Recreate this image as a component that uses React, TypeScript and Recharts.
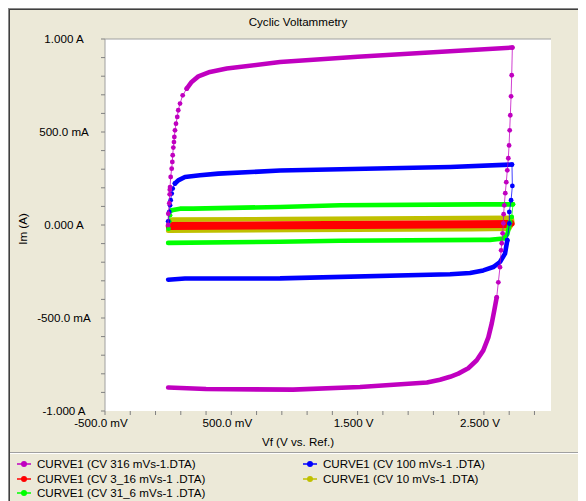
import React from 'react';
import { ScatterChart, Scatter, XAxis, YAxis, CartesianGrid, ReferenceLine } from 'recharts';

const FONT = '"Liberation Sans", Arial, sans-serif';
const FS = 11.6;

// Potential (V vs. Ref.) and current (A) samples of each cyclic voltammogram.
// Each cycle is split into its densely sampled runs and its sparsely sampled
// switching regions so that the sparse points show up as separate markers.

// 316 mV/s
const magentaRise = [
  { v: 0.0, i: 0.0 }, { v: 0.001, i: 0.061 }, { v: 0.009, i: 0.117 }, { v: 0.012, i: 0.165 },
  { v: 0.013, i: 0.19 }, { v: 0.015, i: 0.204 }, { v: 0.02, i: 0.258 }, { v: 0.028, i: 0.303 },
  { v: 0.033, i: 0.339 }, { v: 0.036, i: 0.375 }, { v: 0.041, i: 0.416 }, { v: 0.046, i: 0.446 },
  { v: 0.049, i: 0.473 }, { v: 0.054, i: 0.509 }, { v: 0.062, i: 0.545 }, { v: 0.072, i: 0.581 },
  { v: 0.08, i: 0.617 }, { v: 0.094, i: 0.653 }, { v: 0.115, i: 0.697 }, { v: 0.147, i: 0.733 },
];
const magentaTop = [
  { v: 0.147, i: 0.733 }, { v: 0.186, i: 0.769 }, { v: 0.239, i: 0.799 }, { v: 0.331, i: 0.823 },
  { v: 0.464, i: 0.841 }, { v: 0.886, i: 0.876 }, { v: 1.5, i: 0.905 }, { v: 2.232, i: 0.934 },
  { v: 2.725, i: 0.954 },
];
const magentaFall = [
  { v: 2.725, i: 0.954 }, { v: 2.72, i: 0.805 }, { v: 2.715, i: 0.692 }, { v: 2.709, i: 0.59 },
  { v: 2.704, i: 0.509 }, { v: 2.699, i: 0.428 }, { v: 2.693, i: 0.359 }, { v: 2.685, i: 0.294 },
  { v: 2.677, i: 0.23 }, { v: 2.669, i: 0.171 }, { v: 2.661, i: 0.106 }, { v: 2.656, i: 0.058 },
  { v: 2.654, i: 0.009 }, { v: 2.648, i: -0.045 }, { v: 2.641, i: -0.098 }, { v: 2.636, i: -0.136 },
  { v: 2.627, i: -0.227 }, { v: 2.614, i: -0.308 }, { v: 2.601, i: -0.389 },
];
const magentaReturn = [
  { v: 2.601, i: -0.389 }, { v: 2.582, i: -0.459 }, { v: 2.562, i: -0.529 }, { v: 2.535, i: -0.604 },
  { v: 2.495, i: -0.674 }, { v: 2.443, i: -0.727 }, { v: 2.376, i: -0.77 }, { v: 2.297, i: -0.799 },
  { v: 2.232, i: -0.816 }, { v: 2.152, i: -0.832 }, { v: 2.049, i: -0.847 }, { v: 1.519, i: -0.871 },
  { v: 0.989, i: -0.885 }, { v: 0.3, i: -0.882 }, { v: 0.0, i: -0.874 },
];

// 100 mV/s
const blueRise = [
  { v: 0.0, i: 0.02 }, { v: 0.009, i: 0.07 }, { v: 0.015, i: 0.106 }, { v: 0.02, i: 0.133 },
  { v: 0.028, i: 0.169 }, { v: 0.036, i: 0.196 }, { v: 0.054, i: 0.223 },
];
const blueTop = [
  { v: 0.054, i: 0.223 }, { v: 0.08, i: 0.24 }, { v: 0.133, i: 0.258 }, { v: 0.252, i: 0.267 },
  { v: 0.397, i: 0.276 }, { v: 0.886, i: 0.293 }, { v: 2.232, i: 0.312 }, { v: 2.722, i: 0.325 },
];
const blueFall = [
  { v: 2.722, i: 0.325 }, { v: 2.725, i: 0.21 }, { v: 2.715, i: 0.133 }, { v: 2.701, i: 0.07 },
  { v: 2.701, i: 0.008 }, { v: 2.685, i: -0.082 },
];
const blueReturn = [
  { v: 2.685, i: -0.082 }, { v: 2.667, i: -0.154 }, { v: 2.627, i: -0.199 }, { v: 2.574, i: -0.226 },
  { v: 2.495, i: -0.244 }, { v: 2.39, i: -0.258 }, { v: 2.232, i: -0.265 }, { v: 0.886, i: -0.287 },
  { v: 0.133, i: -0.288 }, { v: 0.0, i: -0.294 },
];

// 31.6 mV/s
const greenRise = [
  { v: 0.003, i: -0.02 }, { v: 0.009, i: 0.02 }, { v: 0.015, i: 0.052 }, { v: 0.028, i: 0.079 },
];
const greenTop = [
  { v: 0.028, i: 0.079 }, { v: 0.094, i: 0.088 }, { v: 0.197, i: 0.088 }, { v: 0.886, i: 0.097 },
  { v: 1.361, i: 0.106 }, { v: 2.469, i: 0.111 }, { v: 2.73, i: 0.111 },
];
const greenFall = [
  { v: 2.73, i: 0.111 }, { v: 2.72, i: 0.043 }, { v: 2.707, i: 0.015 },
];
const greenReturn = [
  { v: 2.707, i: 0.015 }, { v: 2.685, i: -0.05 }, { v: 2.654, i: -0.073 }, { v: 2.548, i: -0.08 },
  { v: 2.469, i: -0.08 }, { v: 1.361, i: -0.085 }, { v: 0.886, i: -0.09 }, { v: 0.0, i: -0.096 },
];

// 10 mV/s
const yellowCycle = [
  { v: 0.0, i: -0.005 }, { v: 0.012, i: 0.02 }, { v: 0.03, i: 0.029 }, { v: 0.9, i: 0.032 },
  { v: 2.0, i: 0.036 }, { v: 2.72, i: 0.039 }, { v: 2.725, i: 0.01 }, { v: 2.7, i: -0.02 },
  { v: 2.4, i: -0.022 }, { v: 1.0, i: -0.027 }, { v: 0.0, i: -0.031 },
];

// 3.16 mV/s
const redCycle = [
  { v: 0.0, i: -0.005 }, { v: 0.01, i: 0.004 }, { v: 0.9, i: 0.008 }, { v: 2.72, i: 0.015 },
  { v: 2.725, i: 0.005 }, { v: 2.7, i: -0.004 }, { v: 1.5, i: -0.009 }, { v: 0.0, i: -0.014 },
];

// Axis ticks and labels
const xTicks = [-0.5, -0.3, -0.1, 0.1, 0.3, 0.5, 0.7, 0.9, 1.1, 1.3, 1.5, 1.7, 1.9, 2.1, 2.3, 2.5, 2.7, 2.9];
const xLabelValues = [-0.5, 0.5, 1.5, 2.5];
const xLabels = ['-500.0 mV', '500.0 mV', '1.500 V', '2.500 V'];
const yTicks = [-1, -0.9, -0.8, -0.7, -0.6, -0.5, -0.4, -0.3, -0.2, -0.1, 0, 0.1, 0.2, 0.3, 0.4, 0.5, 0.6, 0.7, 0.8, 0.9, 1];
const yLabelValues = [-1, -0.5, 0, 0.5, 1];
const yLabels = ['-1.000 A', '-500.0 mA', '0.000 A', '500.0 mA', '1.000 A'];

const MAGENTA = '#C000C0';
const BLUE = '#0000FF';
const RED = '#FF0000';
const OLIVE = '#C0C000';
const GREEN = '#00FF00';

type Pt = { v: number; i: number };
type Curve = { name: string; color: string; dense: Pt[][]; sparse: Pt[][] };

const curve316: Curve = { name: 'CURVE1 (CV 316 mVs-1.DTA)', color: MAGENTA, dense: [magentaTop, magentaReturn], sparse: [magentaRise, magentaFall] };
const curve100: Curve = { name: 'CURVE1 (CV 100 mVs-1 .DTA)', color: BLUE, dense: [blueTop, blueReturn], sparse: [blueRise, blueFall] };
const curve3: Curve = { name: 'CURVE1 (CV 3_16 mVs-1 .DTA)', color: RED, dense: [redCycle], sparse: [] };
const curve10: Curve = { name: 'CURVE1 (CV 10 mVs-1 .DTA)', color: OLIVE, dense: [yellowCycle], sparse: [] };
const curve31: Curve = { name: 'CURVE1 (CV 31_6 mVs-1 .DTA)', color: GREEN, dense: [greenTop, greenReturn], sparse: [greenRise, greenFall] };

// painting order (later on top) and legend order (row by row, two columns)
const drawOrder = [curve10, curve3, curve31, curve100, curve316];
const legendOrder = [curve316, curve100, curve3, curve10, curve31];

const W = 578;
const H = 493;

const YTick = (props: any) => {
  const { y, payload } = props;
  const idx = yLabelValues.findIndex((t) => Math.abs(t - payload.value) < 1e-9);
  if (idx < 0) return <g />;
  return (
    <text x={56} y={y} dy="0.36em" textAnchor="middle" fontFamily={FONT} fontSize={FS} fill="#000">
      {yLabels[idx]}
    </text>
  );
};

const XTick = (props: any) => {
  const { x, payload } = props;
  const idx = xLabelValues.findIndex((t) => Math.abs(t - payload.value) < 1e-9);
  if (idx < 0) return <g />;
  return (
    <text x={x - 4} y={415} dy="0.36em" textAnchor="middle" fontFamily={FONT} fontSize={FS} fill="#000">
      {xLabels[idx]}
    </text>
  );
};

const dot = (color: string) => (p: any) => <circle cx={p.cx} cy={p.cy} r={2.4} fill={color} />;
const none = () => <g />;

export default function App() {
  const series: React.ReactNode[] = [];
  drawOrder.forEach((c, ci) => {
    c.sparse.forEach((seg, si) => {
      series.push(
        <Scatter
          key={`s${ci}-${si}`}
          data={seg}
          fill={c.color}
          line={{ stroke: c.color, strokeWidth: 1, strokeOpacity: 0.75 }}
          lineType="joint"
          shape={dot(c.color)}
          legendType="none"
          isAnimationActive={false}
        />
      );
    });
    c.dense.forEach((seg, di) => {
      series.push(
        <Scatter
          key={`d${ci}-${di}`}
          data={seg}
          fill={c.color}
          line={{ stroke: c.color, strokeWidth: 4.6, strokeLinejoin: 'round', strokeLinecap: 'round' }}
          lineType="joint"
          shape={none}
          legendType="none"
          isAnimationActive={false}
        />
      );
    });
  });

  const colX = [16, 302];
  const rowY = [456, 471, 485];

  return (
    <div
      style={{
        position: 'relative',
        width: W,
        height: H,
        background: '#ECE9D8',
        boxShadow: 'inset 1px 1px 0 #8a8a8a, inset 2px 2px 0 #404040',
      }}
    >
      <ScatterChart width={W} height={H} margin={{ top: 31, right: 35, bottom: 60, left: 37 }}>
        <CartesianGrid horizontal={false} vertical={false} fill="#FFFFFF" fillOpacity={1} />
        <XAxis
          type="number"
          dataKey="v"
          domain={[-0.5, 3.031]}
          allowDataOverflow
          ticks={xTicks}
          interval={0}
          height={30}
          axisLine={false}
          tickLine={{ stroke: '#808080' }}
          tickSize={4}
          tick={<XTick />}
        />
        <YAxis
          type="number"
          dataKey="i"
          domain={[-1, 1]}
          allowDataOverflow
          ticks={yTicks}
          interval={0}
          width={60}
          axisLine={false}
          tickLine={{ stroke: '#808080' }}
          tickSize={4}
          tick={<YTick />}
        />
        <ReferenceLine y={1} stroke="#A0A0A0" strokeWidth={1} />
        <ReferenceLine x={-0.5} stroke="#A0A0A0" strokeWidth={1} />
        {series}
      </ScatterChart>
      <svg
        width={W}
        height={H}
        style={{ position: 'absolute', left: 0, top: 0, pointerEvents: 'none' }}
        fontFamily={FONT}
        fontSize={FS}
      >
        <text x={290} y={14} dy="0.36em" textAnchor="middle" fill="#000">Cyclic Voltammetry</text>
        <text x={14.5} y={221} dy="0.36em" textAnchor="middle" fill="#000" transform="rotate(-90 14.5 221)">Im (A)</text>
        <text x={290} y={434} dy="0.36em" textAnchor="middle" fill="#000">Vf (V vs. Ref.)</text>
        <line x1={2} x2={W} y1={444.5} y2={444.5} stroke="#A0A0A0" />
        <line x1={2} x2={W} y1={445.5} y2={445.5} stroke="#FFFFFF" />
        {legendOrder.map((c, k) => {
          const cx = colX[k % 2];
          const cy = rowY[Math.floor(k / 2)];
          return (
            <g key={c.name}>
              <line x1={cx - 7} x2={cx + 7} y1={cy} y2={cy} stroke={c.color} strokeWidth={1.5} />
              <circle cx={cx} cy={cy} r={3} fill={c.color} />
              <text x={cx + 13} y={cy} dy="0.36em" fill="#000">{c.name}</text>
            </g>
          );
        })}
      </svg>
    </div>
  );
}
